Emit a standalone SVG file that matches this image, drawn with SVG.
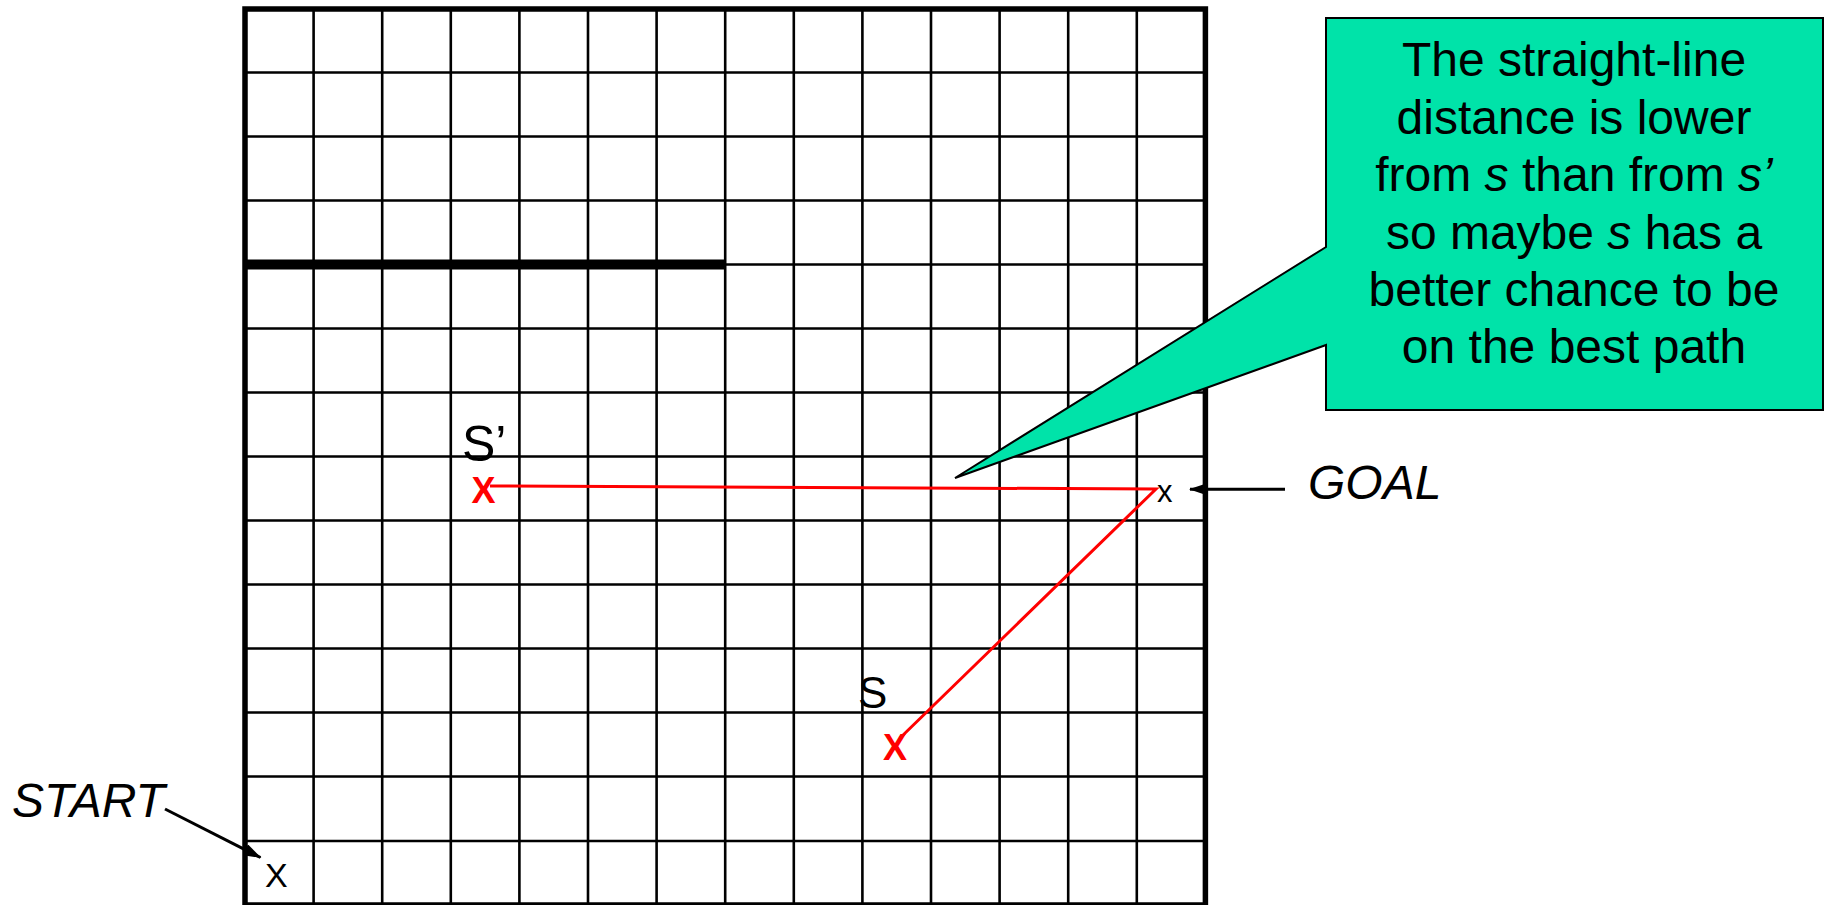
<svg xmlns="http://www.w3.org/2000/svg" width="1826" height="905" viewBox="0 0 1826 905">
<style>
.g{stroke:#000;stroke-width:2.6;fill:none}
.lbl{font-family:"Liberation Sans",Arial,sans-serif;fill:#000}
.it{font-style:italic}
.red{stroke:#f00;stroke-width:3;fill:none}
.rx{font-family:"Liberation Sans",Arial,sans-serif;font-weight:bold;fill:#f00;font-size:36px;text-anchor:middle}
.ct{font-family:"Liberation Sans",Arial,sans-serif;font-size:48px;fill:#000;text-anchor:middle}
</style>
<defs>
<marker id="ah" viewBox="0 0 18 12" refX="17" refY="6" markerWidth="18" markerHeight="12" markerUnits="userSpaceOnUse" orient="auto">
<path d="M0,0 L18,6 L0,12 z" fill="#000"/>
</marker>
</defs>
<rect width="1826" height="905" fill="#fff"/>
<g id="grid">
<path class="g" d="M313.6,9V905 M382.2,9V905 M450.8,9V905 M519.4,9V905 M588,9V905 M656.6,9V905 M725.2,9V905 M793.8,9V905 M862.4,9V905 M931,9V905 M999.6,9V905 M1068.2,9V905 M1136.8,9V905"/>
<path class="g" d="M245,72.5H1205 M245,136.5H1205 M245,200.5H1205 M245,264.5H1205 M245,328.5H1205 M245,392.5H1205 M245,456.5H1205 M245,520.5H1205 M245,584.5H1205 M245,648.5H1205 M245,712.5H1205 M245,776.5H1205 M245,841H1205"/>
<rect x="245" y="9" width="960.4" height="896" fill="none" stroke="#000" stroke-width="5.5"/>
<line x1="245" y1="264.5" x2="725.2" y2="264.5" stroke="#000" stroke-width="10"/>
</g>
<g id="connectors">
<polyline class="red" points="490,486 1156,489 900,738"/>
<line x1="1285" y1="489.3" x2="1190" y2="489.3" stroke="#000" stroke-width="3" marker-end="url(#ah)"/>
<line x1="165" y1="809" x2="260.5" y2="857.5" stroke="#000" stroke-width="3" marker-end="url(#ah)"/>
</g>
<g id="node-sprime">
<text class="lbl" x="462" y="461" font-size="50">S’</text>
<text class="rx" x="483.5" y="503">X</text>
</g>
<g id="node-s">
<text class="lbl" x="858" y="708" font-size="44">S</text>
<text class="rx" x="895" y="760">X</text>
</g>
<g id="node-goal">
<text class="lbl" x="1157" y="502" font-size="31">x</text>
<text class="lbl it" x="1308" y="499" font-size="48">GOAL</text>
</g>
<g id="node-start">
<text class="lbl it" x="12" y="817" font-size="48">START</text>
<text class="lbl" x="265" y="887" font-size="34">X</text>
</g>
<g id="callout">
<path d="M1326,18 H1823 V410 H1326 V345 L955,478 L1326,247 Z" fill="#00E3A9" stroke="#000" stroke-width="2"/>
<text class="ct" x="1574" y="76">The straight-line</text>
<text class="ct" x="1574" y="133.5">distance is lower</text>
<text class="ct" x="1574" y="191">from <tspan font-style="italic">s</tspan> than from <tspan font-style="italic">s’</tspan></text>
<text class="ct" x="1574" y="248.5">so maybe <tspan font-style="italic">s</tspan> has a</text>
<text class="ct" x="1574" y="305.5">better chance to be</text>
<text class="ct" x="1574" y="363">on the best path</text>
</g>
</svg>
